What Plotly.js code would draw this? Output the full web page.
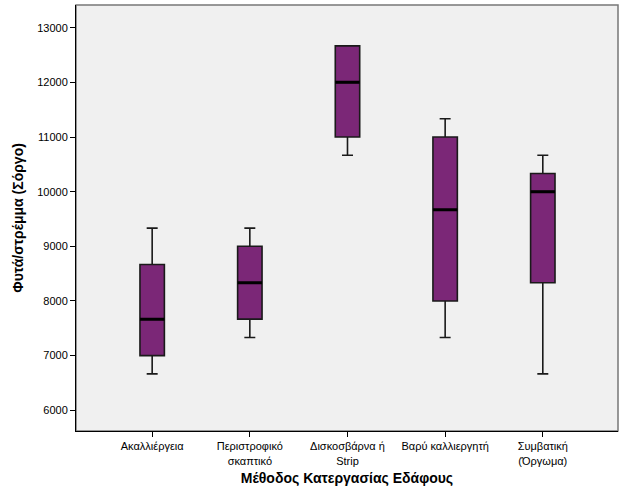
<!DOCTYPE html>
<html>
<head>
<meta charset="utf-8">
<script src="https://cdn.plot.ly/plotly-3.0.1.min.js"></script>
<style>
  html, body { margin: 0; padding: 0; background: #fff; }
  #chart { width: 626px; height: 501px; }
</style>
</head>
<body>
<div id="chart"></div>
<script>
// Tillage method categories (x axis)
const methods = [
  "Ακαλλιέργεια",
  "Περιστροφικό<br>σκαπτικό",
  "Δισκοσβάρνα ή<br>Strip",
  "Βαρύ καλλιεργητή",
  "Συμβατική<br>(Όργωμα)"
];

// Plants per stremma (sorghum), box statistics
const lowerWhisker = [6667, 7333, 10667, 7333, 6667];
const q1Values     = [7000, 7667, 11000, 8000, 8333];
const medianValues = [7667, 8333, 12000, 9667, 10000];
const q3Values     = [8667, 9000, 12667, 11000, 10333];
const upperWhisker = [9333, 9333, 12667, 11333, 10667];

const yTicks = [6000, 7000, 8000, 9000, 10000, 11000, 12000, 13000];

const fontFamily = "Liberation Sans, Arial, sans-serif";
const xPos = methods.map((m, i) => i);

const boxTrace = {
  type: "box",
  x: xPos,
  q1: q1Values,
  median: medianValues,
  q3: q3Values,
  lowerfence: lowerWhisker,
  upperfence: upperWhisker,
  width: 0.25,
  whiskerwidth: 0.45,
  fillcolor: "#7b2777",
  line: { color: "#1a1a1a", width: 1.6 },
  hoverinfo: "skip",
  showlegend: false
};

// the heavy median bar: a flat box at the median, drawn over the first one
const medianTrace = {
  type: "box",
  x: xPos,
  q1: medianValues,
  median: medianValues,
  q3: medianValues,
  lowerfence: medianValues,
  upperfence: medianValues,
  width: 0.25,
  whiskerwidth: 0,
  fillcolor: "rgba(0,0,0,0)",
  line: { color: "#000", width: 3 },
  hoverinfo: "skip",
  showlegend: false
};

const layout = {
  width: 626,
  height: 501,
  margin: { l: 76, r: 8, t: 5, b: 70 },
  paper_bgcolor: "#ffffff",
  plot_bgcolor: "#f0f0f0",
  font: { family: fontFamily, size: 11, color: "#000" },
  showlegend: false,
  boxmode: "overlay",
  xaxis: {
    range: [-0.78, 4.77],
    tickvals: xPos,
    ticktext: methods,
    ticks: "outside",
    ticklen: 5,
    tickcolor: "#000",
    showline: true,
    linecolor: "#000",
    linewidth: 1,
    showgrid: false,
    zeroline: false,
    tickfont: { family: fontFamily, size: 11, color: "#000" },
    title: {
      text: "<b>Μέθοδος Κατεργασίας Εδάφους</b>",
      font: { family: fontFamily, size: 14, color: "#000" },
      standoff: 7
    },
    automargin: false
  },
  yaxis: {
    range: [5621, 13415],
    tickvals: yTicks,
    tickformat: "d",
    ticks: "outside",
    ticklen: 5,
    tickcolor: "#000",
    showline: true,
    linecolor: "#000",
    linewidth: 1,
    showgrid: false,
    zeroline: false,
    tickfont: { family: fontFamily, size: 11, color: "#000" },
    title: {
      text: "<b>Φυτά/στρέμμα (Σόργο)</b>",
      font: { family: fontFamily, size: 14, color: "#000" },
      standoff: 10
    },
    automargin: false
  },
  shapes: [
    {
      type: "rect",
      xref: "paper", yref: "paper",
      x0: 0, x1: 1, y0: 0, y1: 1,
      line: { color: "#777", width: 1.5 },
      layer: "below"
    }
  ]
};

Plotly.newPlot("chart", [boxTrace, medianTrace], layout, { staticPlot: true, displayModeBar: false });
</script>
</body>
</html>
